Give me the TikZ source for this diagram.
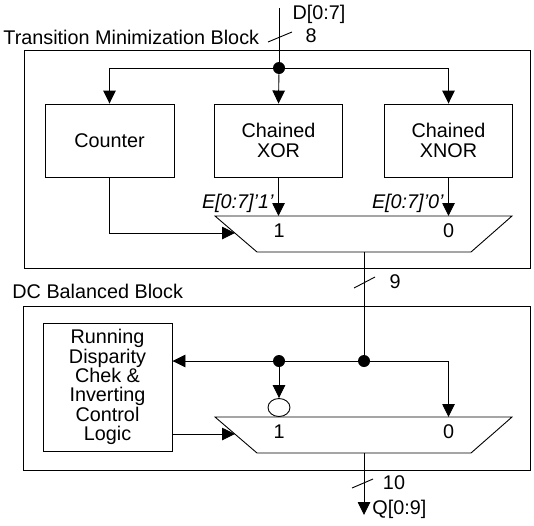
\documentclass[tikz,border=0pt]{standalone}
\usepackage{fontspec}
\setmainfont{Liberation Sans}
\usetikzlibrary{arrows.meta,shapes.geometric}
\begin{document}
\begin{tikzpicture}[x=1pt,y=-1pt,
  line width=0.9pt,
  font=\fontsize{19.8}{19.4}\selectfont,
  blk/.style={draw, align=center, inner sep=0pt},
  outer/.style={draw, inner sep=0pt},
  arr/.style={-{Triangle[length=13pt,width=12.5pt]}},
  dot/.style={circle, fill, inner sep=0pt, minimum size=12pt},
  lbl/.style={inner sep=0pt}]
\useasboundingbox (0,0) rectangle (534,525);
% outer blocks
\node[outer, minimum width=506pt, minimum height=218pt] (tmb) at (277,159) {};
\node[outer, minimum width=507pt, minimum height=164pt] (dcb) at (276.5,388) {};
\node[lbl, anchor=west] (tmbl) at (3,37) {Transition Minimization Block};
\node[lbl, anchor=west] (dcbl) at (12,291) {DC Balanced Block};
% top block content
\node[blk, minimum width=129pt, minimum height=73pt] (counter) at (109.5,140.5) {Counter};
\node[blk, minimum width=128pt, minimum height=73pt] (xor) at (278.5,140.5) {Chained\\XOR};
\node[blk, minimum width=128pt, minimum height=73pt] (xnor) at (448.5,140.5) {Chained\\XNOR};
\node[lbl] (din) at (319,14) {D[0:7]};
\coordinate (dtop) at (279,8);
\node[dot] (d0) at (279,68) {};
\draw (dtop) -- (d0);
\draw (268,42) -- (292,32);
\node[lbl] (n8) at (311,36) {8};
\draw[arr] (d0) -| (counter.north);
\draw[arr] (d0) -- (xor.north);
\draw[arr] (d0) -| (xnor.north);
% mux 1
\coordinate (m1tl) at (215,216);
\coordinate (m1tr) at (512,216);
\coordinate (m1br) at (471,252);
\coordinate (m1bl) at (257,252);
\draw (m1tl) -- (m1tr) -- (m1br) -- (m1bl) -- cycle;
\node[lbl] (m1a) at (279,231) {1};
\node[lbl] (m1b) at (448.5,231) {0};
\draw[arr] (xor.south) -- (xor.south |- m1tl);
\draw[arr] (xnor.south) -- (xnor.south |- m1tl);
\node[lbl, anchor=east, font=\fontsize{19.8}{19.4}\selectfont\itshape] (e1) at (274,203) {E[0:7]'1'};
\node[lbl, anchor=east, font=\fontsize{19.8}{19.4}\selectfont\itshape] (e0) at (444,203) {E[0:7]'0'};
\coordinate (m1s) at (235,233);
\draw[arr] (counter.south) |- (m1s);
% link between blocks
\coordinate (m1out) at (364,252);
\node[dot] (d2) at (364,361) {};
\node[dot] (d1) at (279,361) {};
\draw (m1out) -- (d2);
\draw (354,288) -- (375,277);
\node[lbl] (n9) at (395,282) {9};
% bottom block content
\node[blk, minimum width=129pt, minimum height=128pt] (rdc) at (107.5,387) {Running\\Disparity\\Chek \&\\Inverting\\Control\\Logic};
\coordinate (c0) at (448.5,361);
\draw[arr] (c0) -- (rdc.east |- c0);
\coordinate (m2tl) at (215,417);
\coordinate (m2tr) at (512,417);
\coordinate (m2br) at (471,453);
\coordinate (m2bl) at (257,453);
\draw (m2tl) -- (m2tr) -- (m2br) -- (m2bl) -- cycle;
\node[lbl] (m2a) at (279,432) {1};
\node[lbl] (m2b) at (448.5,432) {0};
\draw[arr] (c0) -- (c0 |- m2tl);
\node[draw, ellipse, minimum width=22pt, minimum height=18pt, inner sep=0pt] (inv) at (279,407.5) {};
\draw[arr] (d1) -- (inv.north);
\coordinate (m2s) at (235,434);
\draw[arr] (rdc.east |- m2s) -- (m2s);
% output
\coordinate (m2out) at (364,453);
\coordinate (qtip) at (364,515);
\draw[arr] (m2out) -- (qtip);
\draw (352,488) -- (373,479);
\node[lbl] (n10) at (394,483) {10};
\node[lbl, anchor=west] (qout) at (372,509) {Q[0:9]};
\end{tikzpicture}
\end{document}
